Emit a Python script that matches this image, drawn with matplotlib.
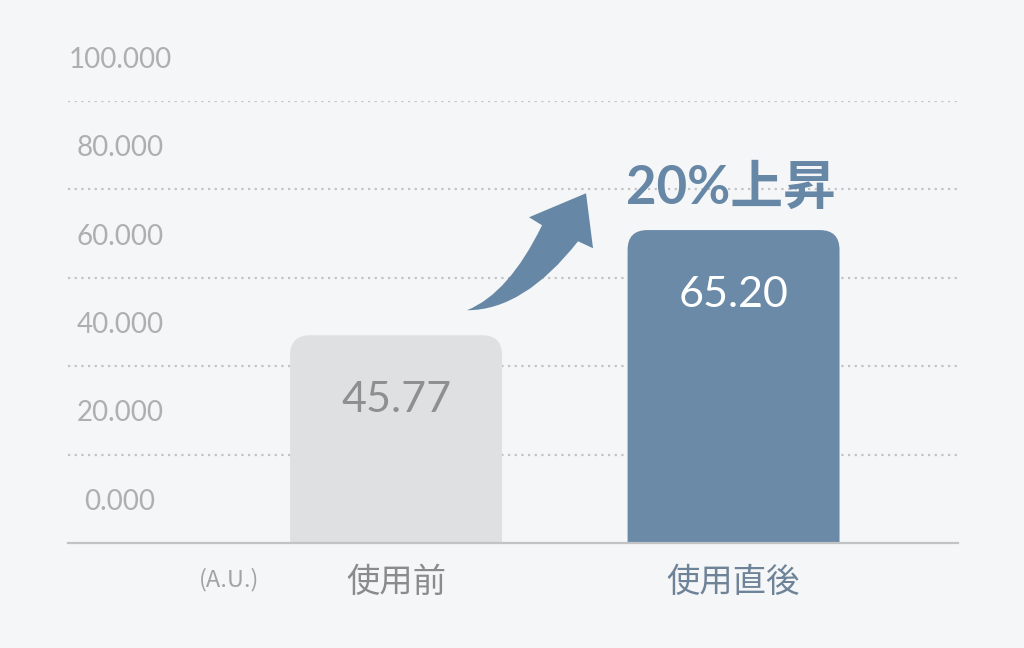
import matplotlib
matplotlib.use("Agg")
import matplotlib.pyplot as plt
import matplotlib.transforms as mtransforms
from matplotlib.patches import FancyBboxPatch, PathPatch
from matplotlib.path import Path

plt.rcParams["font.family"] = ["Lato", "Noto Sans CJK JP", "DejaVu Sans"]

# データ
categories = ["使用前", "使用直後"]
value_labels = ["45.77", "65.20"]
bar_heights = [47.0, 70.8]          # 図から読み取った棒の高さ（軸単位）
tick_values = [0, 20, 40, 60, 80, 100]
tick_labels = ["0.000", "20.000", "40.000", "60.000", "80.000", "100.000"]
unit_label = "(A.U.)"
rise_label = "20%上昇"

# 色
BG = "#f5f6f8"
BAR_COLORS = ["#dfe0e2", "#6b8aa8"]
VALUE_COLORS = ["#8e8f91", "#ffffff"]
CAT_COLORS = ["#8a8b8d", "#6f8398"]
ACCENT = "#6687a5"

fig = plt.figure(figsize=(10.24, 6.48), dpi=100, facecolor=BG)
ax = fig.add_axes([68 / 1024, 105 / 648, 890 / 1024, 442 / 648])
ax.set_facecolor(BG)
ax.set_xlim(-0.972, 1.665)
ax.set_ylim(0, 100)
ax.axis("off")

x_pos = [0, 1]
bar_w = 0.628
r_x = 0.059                      # 角丸半径（x単位）
r_y = 4.5                        # 角丸半径（y単位）

# グリッド（点線）とベースライン
for t in tick_values[1:]:
    ax.axhline(t, color="#c2c3c5", lw=1.6, ls=(0, (1, 2)), zorder=1)
ax.axhline(0, color="#c2c3c5", lw=1.6, zorder=4, clip_on=False)

# 目盛りラベル（グリッド線の少し上に配置）
lbl_trans = mtransforms.blended_transform_factory(ax.transAxes, ax.transData)
for t, s in zip(tick_values, tick_labels):
    ax.text(0.0584, t + 9.3, s, transform=lbl_trans, ha="center", va="center",
            fontsize=20, color="#aeafb1", clip_on=False)

# 角丸の棒
for i, (x, h) in enumerate(zip(x_pos, bar_heights)):
    patch = FancyBboxPatch((x - bar_w / 2, -r_y * 2), bar_w, h + r_y * 2,
                           boxstyle=f"round,pad=0,rounding_size={r_x}",
                           mutation_aspect=r_y / r_x,
                           facecolor=BAR_COLORS[i], edgecolor="none", zorder=2)
    ax.add_patch(patch)
    ax.text(x, h - 14.6, value_labels[i], ha="center", va="center",
            fontsize=31, color=VALUE_COLORS[i], zorder=5)
    ax.text(x, -9.0, categories[i], ha="center", va="center",
            fontsize=24, color=CAT_COLORS[i], family="Noto Sans CJK JP",
            clip_on=False)

ax.text(-0.495, -8.2, unit_label, ha="center", va="center", fontsize=17,
        color="#a2a3a5", family="Noto Sans CJK JP", clip_on=False)

# 上昇ラベル
ax.text(x_pos[1] - 0.008, bar_heights[1] + 9.4, rise_label, ha="center",
        va="center", fontsize=38, fontweight="bold", color=ACCENT,
        clip_on=False, zorder=5)

# 曲線矢印（ピクセルオフセットで形を定義し、棒1の右上に固定）
verts = [(0, 0), (42, 17), (75, 85), (62, 93), (119, 117), (126, 62),
         (111, 69), (57, 0), (0, 0), (0, 0)]
codes = [Path.MOVETO, Path.CURVE3, Path.CURVE3, Path.LINETO, Path.LINETO,
         Path.LINETO, Path.LINETO, Path.CURVE3, Path.CURVE3, Path.CLOSEPOLY]
anchor = (x_pos[0] + bar_w / 2, bar_heights[0])
arrow_trans = (mtransforms.Affine2D().translate(-35, 25).scale(fig.dpi / 100)
               + mtransforms.ScaledTranslation(anchor[0], anchor[1], ax.transData))
ax.add_patch(PathPatch(Path(verts, codes), facecolor=ACCENT, edgecolor="none",
                       transform=arrow_trans, clip_on=False, zorder=5))

fig.savefig("out.png", dpi=100, facecolor=BG)
